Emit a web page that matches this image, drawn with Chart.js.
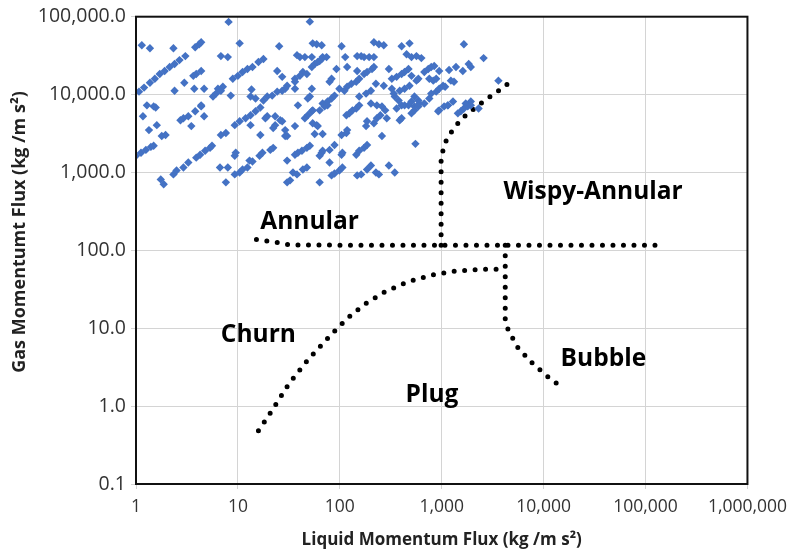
<!DOCTYPE html>
<html>
<head>
<meta charset="utf-8">
<script src="https://cdn.jsdelivr.net/npm/chart.js@4"></script>
<style>
  body { margin: 0; background: #fff; }
  #wrap { width: 795px; height: 555px; }
</style>
</head>
<body>
<div id="wrap"><canvas id="myChart" width="795" height="555"></canvas></div>
<script>
// measured points, [liquid flux, gas flux] in kg/m s2
const measured = [
    [8.1, 85700], [1.14, 43000], [1.37, 39400], [2.33, 39400], [3.81, 40500], [4.17, 44300], [4.36, 46900], [10.4, 45500], [6.81, 31200], [7.96, 30300],
    [1.07, 10900], [1.20, 12300], [1.37, 14200], [1.53, 16000], [1.71, 18400], [1.91, 20100], [2.14, 22600], [2.39, 24700], [2.67, 27700], [3.05, 31200],
    [3.65, 17400], [3.90, 18400], [4.36, 20100], [2.98, 14200], [2.39, 11200], [3.73, 11900], [4.66, 11900], [6.37, 11900], [7.12, 12600],
    [5.70, 9440], [6.10, 10300], [6.81, 11200],
    [8.91, 16000], [10, 17400], [11.1, 19500], [12.4, 21300], [13.9, 22600], [15.9, 26200],
    [8.51, 9710], [13.6, 11600], [1.28, 7270], [1.49, 7050], [4.36, 7270], [13.3, 9440], [14.9, 8900],
    [1.56, 6840], [1.17, 5270], [1.34, 3500], [1.60, 4050], [1.79, 2940], [1.95, 3030],
    [1.0, 1640], [1.12, 1790], [1.25, 1950], [1.40, 2130], [1.49, 2200],
    [2.73, 4690], [2.92, 4970], [3.26, 5270], [3.81, 6100], [4.36, 7050], [3.49, 3940], [4.66, 5270],
    [3.90, 1550], [4.26, 1690], [4.77, 1900], [5.33, 2070], [5.57, 2200],
    [2.33, 944], [2.50, 1060], [2.92, 1160], [3.26, 1340], [1.75, 815], [1.87, 705],
    [6.81, 3030], [7.62, 3210], [9.31, 1640], [9.52, 1790], [6.67, 1160], [7.96, 1160],
    [7.62, 747], [9.31, 944], [10.4, 1000], [11.1, 1090], [12.4, 1160], [13.9, 1380],
    [9.31, 4050], [10.4, 4550], [11.9, 4970], [13.3, 5420], [14.9, 6100], [16.6, 6840],
    [13.3, 4050], [16.6, 3030], [16.3, 1640], [13.0, 1420],
    [50.8, 86400], [25.4, 41700], [54.2, 45500], [59.3, 44300], [66.4, 43000], [17.8, 28600],
    [38, 32100], [40.6, 30300], [45.4, 30300], [53.1, 30300], [63.4, 26900], [67.8, 30300],
    [53.1, 22600], [56.7, 24700], [60.7, 26200], [66.4, 28600], [74.1, 30300], [104, 41700],
    [43.4, 19500], [47.5, 18400], [40.6, 17400], [36.3, 16000], [36.3, 14600], [24.3, 20100], [27.2, 16900],
    [83, 16000], [79.3, 14600], [92.7, 21300],
    [30.4, 13000], [29.1, 11900], [27.2, 11200], [24.3, 10900], [21.7, 9710], [19.4, 9440], [17.8, 8390],
    [36.3, 11900], [53.1, 11900], [50.8, 9440], [48.5, 8900], [67.8, 7690], [75.8, 8150], [83, 8900], [88.7, 9710],
    [113, 30300], [118, 22600], [148, 31200], [162, 31200], [173, 30300], [194, 30300], [216, 30300],
    [216, 46900], [242, 44300], [270, 43000], [148, 20100], [155, 16000], [145, 14600],
    [173, 18400], [185, 19500], [207, 21300], [216, 22600], [226, 13800], [270, 13000],
    [99, 11900], [111, 11200], [118, 12600], [130, 13800], [155, 9440], [181, 10300], [202, 11200],
    [202, 7690], [231, 7270], [259, 7050],
    [38.8, 7270], [63.4, 6270], [70.9, 7050], [75.8, 7270],
    [19.4, 5270], [18.6, 4970], [23.2, 5270], [26.0, 4690], [27.2, 4550], [23.2, 4050], [22.2, 3720], [36.3, 3940],
    [45.4, 4970], [48.5, 5420], [53.1, 6100], [54.2, 6270], [54.2, 4290], [59.3, 4050], [60.7, 3940],
    [29.1, 3500], [29.1, 2940], [30.4, 2940], [56.7, 3120], [67.8, 3120],
    [22.2, 2070], [20.8, 1950], [17.4, 1790],
    [36.3, 1690], [38.8, 1790], [42.5, 1900], [47.5, 2070], [50.8, 2200], [30.4, 1420],
    [63.4, 1640], [66.4, 1790], [67.8, 1900], [79.3, 1950], [88.7, 2250], [79.3, 1340],
    [34.7, 1000], [38, 944], [43.4, 1090], [47.5, 1160], [30.4, 747], [32.5, 792], [63.4, 747],
    [83, 917], [88.7, 970], [99, 1060], [106, 1160],
    [104, 1690], [106, 1790], [104, 3030], [116, 3210], [118, 3500], [116, 5420], [124, 5740], [133, 6270], [145, 6640], [155, 7270],
    [145, 1690], [155, 1900], [173, 2070], [185, 2250],
    [148, 917], [162, 944], [185, 1090], [202, 1230],
    [181, 3940], [185, 4550], [216, 4290], [231, 4970], [250, 5420], [279, 6270],
    [226, 1000], [242, 944], [259, 2940],
    [1650, 44300], [2576, 29400], [404, 41700], [483, 45500],
    [452, 33000], [505, 30300], [565, 31200], [631, 29400],
    [303, 21300], [324, 16000], [361, 16900], [404, 18400], [432, 19500], [472, 21300],
    [505, 17400], [565, 15100], [590, 16000],
    [675, 19500], [738, 21300], [789, 22600], [844, 23300],
    [755, 16000], [826, 15100], [883, 16000], [944, 20100],
    [1180, 20700], [1380, 22600], [1610, 20100], [1930, 22600], [1840, 24700],
    [1230, 15100], [1320, 14600], [3600, 15100],
    [324, 11900], [338, 10300], [346, 9440], [378, 8390], [404, 7270],
    [387, 11200], [432, 11900], [483, 13000],
    [540, 9440], [590, 8390], [604, 7690], [505, 8150], [472, 7270], [540, 7050],
    [675, 7690], [755, 8900], [789, 10300], [883, 10900], [944, 11900], [1030, 13000], [1080, 12600],
    [1150, 7270], [1290, 8150], [1720, 7690], [1930, 8150],
    [361, 6640], [432, 7270], [505, 5740], [540, 6270], [590, 7050],
    [289, 4970], [387, 4690], [404, 4970],
    [923, 6100], [944, 6270], [1055, 7050], [1150, 7270],
    [1440, 5740], [1540, 6100], [1650, 6640], [1800, 7050], [1930, 7270], [2300, 6640],
    [552, 2330], [303, 1230], [346, 1000]
];

// regime boundaries (dotted)
const annularX = [15.2, 24, 33, 1000, 4200, 130000];
const annularY = [138, 127, 117, 116, 116, 116];

const wispyX = [986, 986, 986, 1032, 1104, 1262, 1474, 1723, 2154, 2635, 3290, 4113, 4400];
const wispyY = [116, 609, 1462, 1954, 2541, 3404, 4427, 5420, 6840, 8390, 10300, 12600, 13600];

const churnX = [15.9, 20.8, 31.8, 49.6, 83, 118.5, 173, 277, 462, 807, 1380, 2518, 3524, 4200];
const churnY = [0.483, 0.815, 1.95, 4.05, 8.4, 13.4, 20.1, 29.4, 39.4, 48.3, 54.2, 57.4, 57.4, 55.8];

const bubbleX = [4200, 4200, 4200, 4500, 5620, 7690, 11220, 14200];
const bubbleY = [116, 55.8, 12.6, 9.44, 5.58, 3.60, 2.33, 1.85];

const xTicks = [1, 10, 100, 1000, 10000, 100000, 1000000];
const yTicks = [0.1, 1, 10, 100, 1000, 10000, 100000];

const regimeNames = ['Wispy-Annular', 'Annular', 'Churn', 'Bubble', 'Plug'];
const regimeAtX = [4027, 16.6, 6.8, 14680, 442];
const regimeAtY = [558, 233, 8.15, 4.05, 1.38];

const xTitle = 'Liquid Momentum Flux (kg /m s\u00B2)';
const yTitle = 'Gas Momentumt Flux (kg /m s\u00B2)';

function zip(xs, ys) {
    return xs.map((x, i) => ({ x: x, y: ys[i] }));
}

function dotted(xs, ys) {
    return {
        data: zip(xs, ys),
        showLine: true,
        pointRadius: 0,
        borderColor: '#000',
        borderWidth: 5,
        borderDash: [0, 10.5],
        borderCapStyle: 'round',
        fill: false,
        tension: 0
    };
}

// frame, axis titles and the regime names
const extras = {
    id: 'extras',
    afterDraw(chart) {
        const ctx = chart.ctx;
        const a = chart.chartArea;
        const xs = chart.scales.x, ys = chart.scales.y;
        ctx.save();
        ctx.strokeStyle = '#111';
        ctx.lineWidth = 2;
        ctx.strokeRect(a.left, a.top, a.right - a.left, a.bottom - a.top);

        ctx.fillStyle = '#000';
        ctx.font = 'bold 24.5px "Open Sans"';
        ctx.textAlign = 'left';
        ctx.textBaseline = 'middle';
        regimeNames.forEach((name, i) => {
            ctx.fillText(name, xs.getPixelForValue(regimeAtX[i]), ys.getPixelForValue(regimeAtY[i]));
        });

        ctx.fillStyle = '#222';
        ctx.textAlign = 'center';
        ctx.font = 'bold 17px "Open Sans"';
        ctx.fillText(xTitle, (a.left + a.right) / 2, 540);
        ctx.translate(20, 232);
        ctx.rotate(-Math.PI / 2);
        ctx.font = 'bold 18px "Open Sans"';
        ctx.fillText(yTitle, 0, 0);
        ctx.restore();
    }
};

const ctx = document.getElementById('myChart').getContext('2d');

const myChart = new Chart(ctx, {
    type: 'scatter',
    data: {
        datasets: [
            {
                data: measured.map(p => ({ x: p[0], y: p[1] })),
                pointStyle: 'rectRot',
                pointRadius: 4.2,
                backgroundColor: '#4472C4',
                borderWidth: 0
            },
            dotted(annularX, annularY),
            dotted(wispyX, wispyY),
            dotted(churnX, churnY),
            dotted(bubbleX, bubbleY)
        ]
    },
    options: {
        responsive: false,
        animation: false,
        layout: {
            autoPadding: false,
            padding: { top: 10, right: 40, left: 0, bottom: 0 }
        },
        plugins: {
            legend: { display: false },
            tooltip: { enabled: false }
        },
        scales: {
            x: {
                type: 'logarithmic',
                min: 1,
                max: 1000000,
                afterBuildTicks: s => { s.ticks = xTicks.map(v => ({ value: v })); },
                afterFit: s => { s.height = 71; },
                border: { display: false },
                grid: { color: '#d4d4d4', tickLength: 5 },
                ticks: {
                    color: '#333',
                    padding: 8,
                    font: { family: 'Open Sans', size: 17.5 },
                    maxRotation: 0,
                    callback: v => Number(v).toLocaleString('en-US')
                }
            },
            y: {
                type: 'logarithmic',
                min: 0.1,
                max: 100000,
                afterBuildTicks: s => { s.ticks = yTicks.map(v => ({ value: v })); },
                afterFit: s => { s.width = 136; },
                border: { display: false },
                grid: { color: '#d4d4d4', tickLength: 5 },
                ticks: {
                    color: '#333',
                    padding: 5,
                    font: { family: 'Open Sans', size: 19.5 },
                    callback: v => Number(v).toLocaleString('en-US', { minimumFractionDigits: 1, maximumFractionDigits: 1 })
                }
            }
        }
    },
    plugins: [extras]
});
</script>
</body>
</html>
